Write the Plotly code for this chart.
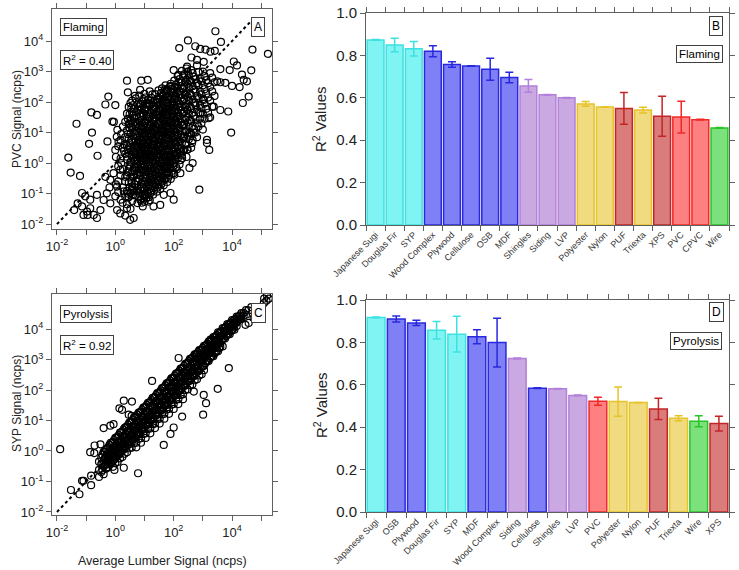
import plotly.graph_objects as go

# ---------------- DATA ----------------
# Scatter panels: values stored as log10(ncps) pairs (x = average lumber, y = material signal)
flaming_outliers_log = [
    (3.43, 4.32), (2.49, 4.02), (3.62, 3.97), (4.70, 3.72), (5.23, 3.58), (2.19, 3.77), (2.74, 3.83),
    (2.91, 3.74), (3.09, 3.72), (3.26, 3.65), (3.41, 3.68), (2.61, 3.46), (2.80, 3.38), (3.03, 3.32),
    (3.60, 3.08), (4.06, 3.33), (4.17, 3.20), (3.92, 3.05), (4.66, 3.04), (4.34, 2.90), (4.40, 2.73),
    (4.51, 2.68), (3.49, 2.68), (3.60, 2.65), (3.77, 2.63), (4.26, 2.49), (4.00, 2.53), (4.57, 2.18),
    (4.37, 1.97), (3.97, 1.00), (2.88, -0.87), (3.87, 1.69), (3.60, 1.74), (3.37, 1.85), (3.03, 2.07),
    (2.91, 1.63), (3.20, 1.47), (3.14, 0.76), (3.22, 0.43), (3.14, 0.66), (2.65, 0.00), (2.54, -0.16),
    (2.23, -0.33), (2.29, 0.16), (2.46, 0.43), (2.00, -1.20), (1.89, -0.98), (1.66, -1.04), (1.54, -1.37),
    (1.31, -1.42), (1.14, -1.26), (0.86, -1.21), (0.63, -1.80), (0.51, -1.86), (0.34, -1.72), (0.40, -1.48),
    (0.17, -1.65), (0.06, -1.54), (-0.17, -1.32), (-0.40, -1.21), (-0.29, -0.99), (-0.51, -1.54),
    (-0.63, -1.80), (-0.74, -1.70), (-0.86, -1.48), (-0.97, -1.59), (-1.09, -1.70), (-1.14, -1.42),
    (-1.29, -1.32), (-1.41, -1.54), (-1.03, -1.09), (-0.86, -1.20), (-0.63, -1.04), (-1.14, -0.98),
    (-0.95, -1.70), (-0.06, -0.33), (-0.17, -0.55), (-0.34, -0.45), (0.17, -0.22), (0.06, -0.77),
    (0.29, -0.93), (0.57, -0.87), (0.00, -1.09), (-1.61, 0.18), (-1.53, -0.31), (-1.21, -0.42),
    (-1.33, 1.29), (-0.82, 1.66), (-0.63, 1.58), (-0.80, 1.00), (-0.90, 0.63), (-0.61, 0.24),
    (-0.27, 0.71), (-0.10, 1.36), (-0.05, 1.35), (-0.24, 2.18), (-0.34, 1.92), (0.00, 1.90), (0.07, 1.09),
    (0.40, 2.70), (0.43, 2.32), (0.89, 2.70), (1.11, 2.73), (0.57, 1.69), (0.51, 1.30), (0.05, 0.86),
    (0.11, 0.70), (0.00, 0.43), (0.40, 0.21), (0.51, -0.12), (0.34, -0.45), (2.00, -0.33), (1.89, 0.00),
    (2.23, 0.38), (2.63, 0.66), (2.69, 1.00), (2.29, 1.25), (2.11, 1.52), (2.46, 1.74), (2.74, 1.97),
    (2.40, 2.24), (1.89, 2.52), (2.16, 2.89), (2.46, 3.16), (2.00, 3.05), (1.71, 2.42), (1.43, 2.08),
    (1.09, 1.97), (0.86, 1.75), (0.20, 0.00), (0.30, 0.40), (0.10, -0.60), (-0.20, -0.80), (0.25, -1.30),
    (0.45, -1.10), (0.20, 0.95), (0.30, 0.60),
]
# dense core of the flaming cloud: (log10 lumber, [log10 PVC values])
flaming_core_cols = [
    (0.02, [-0.7, 0.2]), (0.10, [-0.95, -0.1, 0.55]), (0.18, [-1.2, -0.4, 0.15, 0.75]),
    (0.26, [-0.8, -0.2, 0.5, 1.2]), (0.34, [-1.1, -0.6, 0.3, 0.85, 1.35]),
    (0.40, [-1.35, -0.92, -0.41, 0.12, 0.58, 1.07, 1.62]),
    (0.46, [-1.12, -0.63, -0.18, 0.33, 0.81, 1.28, 1.84]),
    (0.52, [-0.98, -0.47, 0.04, 0.49, 0.96, 1.41, 1.97, -1.5]),
    (0.58, [-1.24, -0.76, -0.29, 0.21, 0.69, 1.15, 1.56, 2.05]),
    (0.64, [-0.88, -0.39, 0.08, 0.57, 1.02, 1.48, 1.78, -0.12, 0.36]),
    (0.70, [-1.06, -0.58, -0.15, 0.27, 0.74, 1.21, 1.66, 2.12, 0.95]),
    (0.76, [-1.31, -0.81, -0.34, 0.14, 0.46, 0.88, 1.33, 1.74, -0.02, 0.63]),
    (0.82, [-0.97, -0.52, -0.21, 0.19, 0.55, 0.99, 1.38, 1.86, 2.21, 0.78]),
    (0.88, [-1.18, -0.69, -0.31, 0.05, 0.41, 0.72, 1.11, 1.52, 1.93, -0.05, 0.3]),
    (0.94, [-1.42, -1.02, -0.61, -0.24, 0.16, 0.52, 0.86, 1.24, 1.63, 2.02, 0.68]),
    (1.00, [-1.27, -0.89, -0.47, -0.08, 0.27, 0.63, 0.98, 1.37, 1.79, 2.27, -1.05, 0.45]),
    (1.06, [-1.15, -0.76, -0.38, 0.02, 0.38, 0.77, 1.16, 1.55, 1.94, 0.2, 1.0]),
    (1.12, [-0.99, -0.63, -0.26, 0.11, 0.47, 0.84, 1.21, 1.6, 2.08, 0.65]),
    (1.18, [-1.21, -0.84, -0.44, -0.07, 0.31, 0.69, 1.06, 1.46, 1.88, 2.35, 0.9]),
    (1.24, [-0.91, -0.55, -0.17, 0.22, 0.58, 0.94, 1.31, 1.72, 2.14, 0.4]),
    (1.30, [-1.03, -0.67, -0.3, 0.08, 0.44, 0.81, 1.19, 1.57, 1.99, 0.62]),
    (1.36, [-0.78, -0.4, -0.02, 0.35, 0.71, 1.08, 1.44, 1.83, 2.26]),
    (1.42, [-0.94, -0.58, -0.21, 0.17, 0.54, 0.92, 1.29, 1.68, 2.09, 1.1]),
    (1.48, [-0.71, -0.33, 0.04, 0.41, 0.78, 1.15, 1.53, 1.92, 2.38, 0.6]),
    (1.54, [-0.85, -0.47, -0.11, 0.28, 0.65, 1.02, 1.39, 1.77, 2.18]),
    (1.60, [-0.6, -0.24, 0.13, 0.5, 0.88, 1.26, 1.64, 2.03, 2.45, 1.05]),
    (1.66, [-0.73, -0.36, 0.01, 0.37, 0.74, 1.12, 1.5, 1.89, 2.3]),
    (1.72, [-0.5, -0.14, 0.24, 0.62, 0.99, 1.37, 1.75, 2.16, 2.55]),
    (1.78, [-0.62, -0.27, 0.1, 0.47, 0.85, 1.23, 1.61, 2.0, 2.42]),
    (1.84, [-0.39, -0.02, 0.35, 0.73, 1.11, 1.49, 1.87, 2.28]),
    (1.90, [-0.52, -0.16, 0.22, 0.6, 0.97, 1.35, 1.73, 2.14, 2.6]),
    (1.96, [-0.25, 0.12, 0.49, 0.86, 1.24, 1.62, 2.01, 2.44]),
    (2.02, [-0.38, 0.0, 0.37, 0.74, 1.12, 1.5, 1.89, 2.31, 2.7]),
    (2.08, [-0.12, 0.26, 0.63, 1.01, 1.39, 1.78, 2.19, 2.58]),
    (2.14, [0.15, 0.52, 0.9, 1.28, 1.66, 2.05, 2.47, 2.85]),
    (2.20, [-0.05, 0.38, 0.77, 1.16, 1.55, 1.95, 2.36, 2.75]),
    (2.28, [0.25, 0.66, 1.05, 1.44, 1.84, 2.24, 2.64, 3.02]),
    (2.36, [0.44, 0.86, 1.27, 1.68, 2.09, 2.5, 2.91]),
    (2.44, [0.2, 0.62, 1.05, 1.48, 1.9, 2.32, 2.74, 3.1]),
    (2.52, [0.78, 1.2, 1.62, 2.05, 2.47, 2.88]),
    (2.60, [0.5, 0.95, 1.38, 1.8, 2.23, 2.66, 3.05]),
    (2.70, [1.12, 1.55, 1.98, 2.41, 2.83]),
    (2.80, [0.85, 1.3, 1.75, 2.2, 2.62, 3.2]),
    (2.90, [1.45, 1.9, 2.35, 2.78]),
    (3.00, [1.1, 1.62, 2.1, 2.55, 3.0]),
    (3.12, [1.78, 2.28, 2.72]),
    (3.25, [1.5, 2.05, 2.5, 2.95]),
    (3.40, [2.2, 2.65]),
]
flaming_core_cols_2 = [
    (0.43, [-1.0, -0.3, 0.45, 0.95, 1.45]), (0.49, [-0.8, -0.05, 0.65, 1.15, 1.6]),
    (0.55, [-0.6, 0.25, 0.75, 1.2, 1.8]), (0.61, [-1.05, -0.45, 0.4, 0.88, 1.3, 1.9]),
    (0.67, [-0.7, -0.25, 0.12, 0.5, 1.35, 2.2]), (0.73, [-0.92, -0.38, 0.05, 0.55, 1.05, 1.5]),
    (0.79, [-1.1, -0.6, -0.1, 0.32, 0.7, 1.15, 1.95]), (0.85, [-0.85, -0.4, 0.3, 0.65, 1.25, 1.62, 2.4]),
    (0.91, [-1.3, -0.8, -0.15, 0.25, 0.6, 0.98, 1.42, 1.8]),
    (0.97, [-1.15, -0.7, -0.3, 0.08, 0.42, 0.8, 1.17, 1.55, 2.1]),
    (1.03, [-1.05, -0.6, -0.22, 0.15, 0.52, 0.9, 1.3, 1.7, 2.15]),
    (1.09, [-0.9, -0.5, -0.12, 0.28, 0.64, 1.06, 1.45, 1.83]),
    (1.15, [-1.12, -0.72, -0.33, 0.03, 0.4, 0.76, 1.13, 1.52, 1.96]),
    (1.21, [-0.98, -0.62, -0.25, 0.14, 0.5, 0.87, 1.24, 1.64, 2.05]),
    (1.27, [-0.75, -0.38, 0.0, 0.4, 0.78, 1.02, 1.43, 1.85, 2.25]),
    (1.33, [-0.9, -0.52, -0.15, 0.25, 0.6, 0.98, 1.36, 1.76]),
    (1.39, [-0.65, -0.28, 0.1, 0.46, 0.83, 1.2, 1.58, 1.97]),
    (1.45, [-0.8, -0.43, -0.05, 0.33, 0.7, 1.07, 1.6, 2.0]),
    (1.51, [-0.57, -0.2, 0.18, 0.54, 0.92, 1.3, 1.7, 2.1]),
    (1.57, [-0.7, -0.32, 0.05, 0.43, 0.8, 1.15, 1.52, 1.92, 2.3]),
    (1.63, [-0.45, -0.08, 0.3, 0.66, 1.03, 1.42, 1.8, 2.2]),
    (1.69, [-0.55, -0.2, 0.18, 0.56, 0.9, 1.28, 1.66, 2.05]),
    (1.75, [-0.32, 0.05, 0.42, 0.8, 1.18, 1.56, 1.95, 2.38]),
    (1.81, [-0.48, -0.1, 0.27, 0.64, 1.02, 1.4, 1.79, 2.17]),
    (1.87, [-0.2, 0.17, 0.55, 0.92, 1.3, 1.68, 2.08, 2.5]),
    (1.93, [-0.35, 0.05, 0.4, 0.78, 1.16, 1.54, 1.93, 2.33]),
    (1.99, [-0.1, 0.28, 0.66, 1.04, 1.42, 1.81, 2.2]),
    (2.05, [0.12, 0.5, 0.9, 1.3, 1.68, 2.08, 2.5]),
    (2.11, [-0.2, 0.35, 0.74, 1.13, 1.52, 1.92, 2.32]),
    (2.17, [0.3, 0.68, 1.06, 1.45, 1.84, 2.25, 2.65]),
    (2.24, [0.1, 0.5, 0.92, 1.32, 1.72, 2.12, 2.52]),
    (2.32, [0.4, 0.82, 1.22, 1.62, 2.02, 2.44, 2.85]),
    (2.40, [0.6, 1.02, 1.42, 1.84, 2.24, 2.66]),
    (2.48, [0.45, 0.9, 1.33, 1.75, 2.17, 2.6, 3.0]),
    (2.56, [1.0, 1.42, 1.85, 2.28, 2.7]),
    (2.65, [0.75, 1.2, 1.65, 2.08, 2.52, 2.95]),
    (2.75, [1.0, 1.45, 1.9, 2.35, 2.75]),
    (2.85, [1.2, 1.65, 2.1, 2.55, 2.98]),
    (2.95, [1.3, 1.8, 2.25, 2.68]),
    (3.06, [1.45, 1.95, 2.42, 2.85]),
    (3.18, [1.65, 2.15, 2.62]),
    (3.32, [1.85, 2.35, 2.8]),
]

pyro_outliers_log = [
    (-1.89, 0.06), (-1.52, -1.28), (-1.23, -1.42), (-1.14, -0.98), (-1.09, -0.98), (-0.83, -0.81),
    (-0.83, -1.12), (-0.86, -0.04), (-0.71, 0.18), (-0.51, 0.22), (-0.72, -0.07), (-0.40, 0.75),
    (-0.17, 0.83), (-0.06, 0.88), (0.14, 1.40), (0.23, 1.35), (0.29, 1.65), (0.57, 1.62), (0.46, 1.19),
    (-0.03, -0.62), (0.29, -0.55), (0.78, -0.73), (1.26, 2.30), (1.66, 0.20), (1.89, 0.56), (2.00, 0.77),
    (2.29, 1.13), (2.69, 1.95), (3.03, 1.84), (3.11, 1.57), (3.51, 2.04), (3.89, 2.72), (3.26, 3.65),
    (2.74, 3.10), (2.17, 3.05), (3.01, 1.19), (5.09, 4.85), (5.26, 5.00), (5.18, 4.93), (4.74, 4.36),
    (4.57, 4.20), (4.46, 4.14),
]
# dense band of the pyrolysis cloud: (log10 lumber, [log10 SYP values])
pyro_band_cols = [
    (-0.56, [-0.35, -0.62, -0.85]), (-0.48, [-0.22, -0.43, -0.69]), (-0.40, [-0.03, -0.31, -0.5, -0.76]),
    (-0.32, [0.04, -0.18, -0.43, -0.58]), (-0.24, [0.12, -0.09, -0.27, -0.53]),
    (-0.16, [0.27, 0.01, -0.19, -0.37]), (-0.08, [0.3, 0.12, -0.13, -0.31, -0.52]),
    (0.00, [0.43, 0.17, 0.02, -0.25, -0.4]), (0.08, [0.47, 0.29, 0.04, -0.12, -0.36]),
    (0.16, [0.6, 0.33, 0.17, -0.07, -0.24]), (0.24, [0.64, 0.45, 0.2, 0.05, -0.2]),
    (0.32, [0.76, 0.49, 0.33, 0.08, -0.09]), (0.40, [0.81, 0.63, 0.36, 0.2, -0.04]),
    (0.48, [0.93, 0.65, 0.49, 0.23, 0.09]), (0.56, [0.96, 0.79, 0.52, 0.37, 0.11, 1.15]),
    (0.64, [1.1, 0.82, 0.66, 0.4, 0.25]), (0.72, [1.12, 0.95, 0.69, 0.53, 0.27, 0.12]),
    (0.80, [1.26, 0.98, 0.82, 0.55, 0.4]), (0.88, [1.29, 1.11, 0.84, 0.69, 0.42, 0.27]),
    (0.96, [1.42, 1.14, 0.98, 0.71, 0.56]), (1.04, [1.45, 1.28, 1.0, 0.85, 0.58, 0.43]),
    (1.12, [1.58, 1.3, 1.14, 0.87, 0.72]), (1.20, [1.6, 1.44, 1.16, 1.01, 0.74, 0.58]),
    (1.28, [1.74, 1.46, 1.3, 1.03, 0.88]), (1.36, [1.77, 1.6, 1.32, 1.17, 0.9, 0.75]),
    (1.44, [1.9, 1.62, 1.46, 1.19, 1.04]), (1.52, [1.93, 1.76, 1.48, 1.33, 1.06, 0.9]),
    (1.60, [2.06, 1.78, 1.62, 1.35, 1.2]), (1.68, [2.09, 1.92, 1.64, 1.49, 1.22, 1.06]),
    (1.76, [2.22, 1.94, 1.78, 1.51, 1.36]), (1.84, [2.25, 2.08, 1.8, 1.65, 1.38, 1.22]),
    (1.92, [2.38, 2.1, 1.94, 1.67, 1.52]), (2.00, [2.41, 2.24, 1.96, 1.81, 1.54, 1.38]),
    (2.08, [2.54, 2.26, 2.1, 1.83, 1.68]), (2.16, [2.57, 2.4, 2.12, 1.97, 1.7, 1.54]),
    (2.24, [2.7, 2.42, 2.26, 1.99, 1.84]), (2.32, [2.73, 2.56, 2.28, 2.13, 1.86, 1.7]),
    (2.40, [2.86, 2.58, 2.42, 2.15, 2.0]), (2.48, [2.89, 2.72, 2.44, 2.29, 2.02]),
    (2.56, [3.02, 2.74, 2.58, 2.31, 2.16]), (2.64, [3.05, 2.88, 2.6, 2.45, 2.18]),
    (2.72, [3.17, 2.9, 2.74, 2.47, 2.32]), (2.80, [3.19, 3.03, 2.76, 2.61, 2.35]),
    (2.88, [3.31, 3.05, 2.9, 2.63, 2.48]), (2.96, [3.33, 3.18, 2.92, 2.77, 2.52]),
    (3.04, [3.45, 3.19, 3.06, 2.8, 2.65]), (3.12, [3.47, 3.33, 3.08, 2.94]),
    (3.20, [3.59, 3.34, 3.21, 2.95]), (3.28, [3.61, 3.48, 3.23, 3.09]),
    (3.36, [3.74, 3.49, 3.37, 3.11]), (3.44, [3.76, 3.63, 3.38, 3.25]),
    (3.52, [3.89, 3.64, 3.52, 3.27]), (3.60, [3.9, 3.78, 3.53, 3.41]),
    (3.68, [4.03, 3.79, 3.67, 3.43]), (3.76, [4.05, 3.93, 3.69]), (3.84, [4.16, 3.94, 3.82]),
    (3.92, [4.18, 4.06, 3.83]), (4.00, [4.29, 4.07, 3.96]), (4.08, [4.3, 4.2, 3.98]),
    (4.16, [4.41, 4.21, 4.1]), (4.24, [4.42, 4.33]), (4.32, [4.52, 4.34]), (4.40, [4.53, 4.44]),
    (4.48, [4.62, 4.47]), (4.56, [4.61]), (4.66, [4.72]), (5.10, [5.0]), (5.20, [5.1]),
]
pyro_band_cols_2 = [
    (-0.44, [-0.12, -0.4, -0.62]), (-0.36, [-0.02, -0.25, -0.47]), (-0.28, [0.08, -0.14, -0.36, -0.55]),
    (-0.20, [0.2, -0.03, -0.24, -0.44]), (-0.12, [0.26, 0.06, -0.16, -0.38]),
    (-0.04, [0.36, 0.13, -0.07, -0.29]), (0.04, [0.44, 0.22, 0.0, -0.2]), (0.12, [0.52, 0.3, 0.09, -0.12]),
    (0.20, [0.61, 0.38, 0.18, -0.03]), (0.28, [0.7, 0.47, 0.26, 0.04]), (0.36, [0.78, 0.55, 0.33, 0.13]),
    (0.44, [0.86, 0.64, 0.43, 0.2]), (0.52, [0.94, 0.72, 0.5, 0.29]), (0.60, [1.03, 0.8, 0.59, 0.37]),
    (0.68, [1.1, 0.88, 0.67, 0.45]), (0.76, [1.19, 0.96, 0.75, 0.52]), (0.84, [1.27, 1.04, 0.83, 0.61]),
    (0.92, [1.35, 1.12, 0.91, 0.69]), (1.00, [1.43, 1.21, 0.99, 0.77]), (1.08, [1.51, 1.29, 1.07, 0.85]),
    (1.16, [1.59, 1.37, 1.15, 0.93]), (1.24, [1.67, 1.45, 1.23, 1.01]), (1.32, [1.75, 1.53, 1.31, 1.09]),
    (1.40, [1.83, 1.61, 1.39, 1.17]), (1.48, [1.91, 1.69, 1.47, 1.25]), (1.56, [1.99, 1.77, 1.55, 1.33]),
    (1.64, [2.07, 1.85, 1.63, 1.41]), (1.72, [2.15, 1.93, 1.71, 1.49]), (1.80, [2.23, 2.01, 1.79, 1.57]),
    (1.88, [2.31, 2.09, 1.87, 1.65]), (1.96, [2.39, 2.17, 1.95, 1.73]), (2.04, [2.47, 2.25, 2.03, 1.81]),
    (2.12, [2.55, 2.33, 2.11, 1.89]), (2.20, [2.63, 2.41, 2.19, 1.97]), (2.28, [2.71, 2.49, 2.27, 2.05]),
    (2.36, [2.79, 2.57, 2.35, 2.13]), (2.44, [2.87, 2.65, 2.43, 2.21]), (2.52, [2.95, 2.73, 2.51, 2.29]),
    (2.60, [3.03, 2.81, 2.59, 2.37]), (2.68, [3.1, 2.89, 2.67, 2.45]), (2.76, [3.17, 2.97, 2.75, 2.53]),
    (2.84, [3.24, 3.04, 2.83, 2.62]), (2.92, [3.31, 3.12, 2.91, 2.7]), (3.00, [3.38, 3.19, 2.99, 2.78]),
    (3.08, [3.45, 3.27, 3.07, 2.87]), (3.16, [3.52, 3.34, 3.15, 2.96]), (3.24, [3.59, 3.41, 3.23, 3.04]),
    (3.32, [3.66, 3.49, 3.31, 3.12]), (3.40, [3.73, 3.56, 3.39, 3.2]), (3.48, [3.8, 3.63, 3.46, 3.29]),
    (3.56, [3.87, 3.71, 3.54, 3.37]), (3.64, [3.94, 3.78, 3.62]), (3.72, [4.01, 3.86, 3.7]),
    (3.80, [4.08, 3.93, 3.77]), (3.88, [4.14, 4.0, 3.85]), (3.96, [4.21, 4.08, 3.93]),
    (4.04, [4.27, 4.14, 4.01]), (4.12, [4.33, 4.2]), (4.20, [4.39, 4.27]), (4.28, [4.45, 4.33]),
]

# Bar panels
flaming_materials = ["Japanese Sugi", "Douglas Fir", "SYP", "Wood Complex", "Plywood", "Cellulose", "OSB",
                     "MDF", "Shingles", "Siding", "LVP", "Polyester", "Nylon", "PUF", "Triexta", "XPS",
                     "PVC", "CPVC", "Wire"]
flaming_r2 = [0.873, 0.849, 0.831, 0.820, 0.757, 0.750, 0.735, 0.696, 0.656, 0.614, 0.600, 0.571, 0.557,
              0.550, 0.542, 0.513, 0.509, 0.497, 0.458]
flaming_err = [0.002, 0.032, 0.034, 0.026, 0.013, 0.001, 0.052, 0.025, 0.030, 0.002, 0.002, 0.011, 0.001,
               0.075, 0.014, 0.094, 0.075, 0.002, 0.002]
flaming_group = ["cyan", "cyan", "cyan", "blue", "blue", "blue", "blue", "blue", "lav", "lav", "lav",
                 "yellow", "yellow", "darkred", "yellow", "darkred", "red", "red", "green"]

pyro_materials = ["Japanese Sugi", "OSB", "Plywood", "Douglas Fir", "SYP", "MDF", "Wood Complex", "Siding",
                  "Cellulose", "Shingles", "LVP", "PVC", "Polyester", "Nylon", "PUF", "Triexta", "Wire", "XPS"]
pyro_r2 = [0.918, 0.910, 0.892, 0.857, 0.839, 0.827, 0.799, 0.724, 0.584, 0.581, 0.550, 0.522, 0.521, 0.516,
           0.486, 0.442, 0.428, 0.417]
pyro_err = [0.002, 0.014, 0.012, 0.041, 0.084, 0.033, 0.115, 0.002, 0.002, 0.002, 0.002, 0.019, 0.069, 0.001,
            0.050, 0.012, 0.026, 0.035]
pyro_group = ["cyan", "blue", "blue", "cyan", "cyan", "blue", "blue", "lav", "blue", "lav", "lav", "red",
              "yellow", "yellow", "darkred", "yellow", "green", "darkred"]

group_fill = {"cyan": "rgb(128,243,243)", "blue": "rgb(128,128,246)", "lav": "rgb(202,168,226)",
              "yellow": "rgb(241,219,128)", "darkred": "rgb(219,124,124)", "red": "rgb(255,128,128)",
              "green": "rgb(124,225,124)"}
group_edge = {"cyan": "rgb(60,225,225)", "blue": "rgb(40,40,222)", "lav": "rgb(178,128,218)",
              "yellow": "rgb(230,196,40)", "darkred": "rgb(196,36,36)", "red": "rgb(242,40,40)",
              "green": "rgb(40,196,40)"}
group_order = ["cyan", "blue", "lav", "yellow", "darkred", "red", "green"]

# ---------------- FIGURE ----------------
fig = go.Figure()
FONT = "Liberation Sans, Arial, sans-serif"
AX = "#606060"


def expand(outliers, *col_sets):
    xs = [p[0] for p in outliers]
    ys_ = [p[1] for p in outliers]
    for cols in col_sets:
        xs += [x for x, ys in cols for _ in ys]
        ys_ += [y for _, ys in cols for y in ys]
    return [10 ** v for v in xs], [10 ** v for v in ys_]


fl_x, fl_y = expand(flaming_outliers_log, flaming_core_cols, flaming_core_cols_2)
py_x, py_y = expand(pyro_outliers_log, pyro_band_cols, pyro_band_cols_2)

one_to_one = [1e-2, 10 ** 4.62]

for xa, ya, xs, ys in [("x", "y", fl_x, fl_y), ("x3", "y3", py_x, py_y)]:
    fig.add_trace(go.Scatter(x=one_to_one, y=one_to_one, mode="lines", xaxis=xa, yaxis=ya,
                             line=dict(color="black", width=2, dash="dot"), showlegend=False,
                             hoverinfo="skip"))
    fig.add_trace(go.Scatter(x=xs, y=ys, mode="markers", xaxis=xa, yaxis=ya, showlegend=False,
                             marker=dict(symbol="circle-open", size=7, color="black",
                                         line=dict(width=1.2, color="black"))))


def add_bars(materials, vals, errs, groups, xa, ya):
    for g in group_order:
        idx = [i for i, gg in enumerate(groups) if gg == g]
        if not idx:
            continue
        fig.add_trace(go.Bar(
            x=[materials[i] for i in idx], y=[vals[i] for i in idx], xaxis=xa, yaxis=ya,
            width=0.88, showlegend=False, textposition="none",
            marker=dict(color=group_fill[g], line=dict(color=group_edge[g], width=1.5)),
            error_y=dict(type="data", array=[errs[i] for i in idx], visible=True,
                         color=group_edge[g], thickness=1.5, width=4)))


add_bars(flaming_materials, flaming_r2, flaming_err, flaming_group, "x2", "y2")
add_bars(pyro_materials, pyro_r2, pyro_err, pyro_group, "x4", "y4")


def sup(e):
    return "10<sup>%d</sup>" % e


x_major = [10 ** e for e in (-2, 0, 2, 4)]
x_major_text = [sup(e) for e in (-2, 0, 2, 4)]
x_minor = [10 ** e for e in (-1, 1, 3, 5)]
y_tickvals = [10 ** e for e in range(-2, 5)]
y_ticktext = [sup(e) for e in range(-2, 5)]

common = dict(showline=True, linecolor=AX, linewidth=1, mirror="ticks", ticks="outside", ticklen=5,
              tickcolor=AX, showgrid=False, zeroline=False, automargin=False,
              tickfont=dict(size=13, color="#222"))
minor_x = dict(tickmode="array", tickvals=x_minor, ticks="outside", ticklen=5, tickcolor=AX, showgrid=False)

W, H = 739.0, 570.0
dx_sc = [52 / W, 272 / W]
dx_bar = [366 / W, 729 / W]

fig.update_layout(
    width=739, height=570, margin=dict(l=0, r=0, t=0, b=0, autoexpand=False),
    paper_bgcolor="white", plot_bgcolor="white", font=dict(family=FONT, color="#222"),
    barmode="overlay", showlegend=False,
    xaxis=dict(type="log", range=[-2.17, 5.37], domain=dx_sc, anchor="y", tickmode="array",
               tickvals=x_major, ticktext=x_major_text, minor=minor_x, **common),
    yaxis=dict(type="log", range=[-2.16, 5.05], domain=[1 - 229 / H, 1 - 9 / H], anchor="x",
               tickmode="array", tickvals=y_tickvals, ticktext=y_ticktext, **common),
    xaxis3=dict(type="log", range=[-2.17, 5.37], domain=dx_sc, anchor="y3", tickmode="array",
                tickvals=x_major, ticktext=x_major_text, minor=minor_x, **common),
    yaxis3=dict(type="log", range=[-2.1, 5.15], domain=[1 - 515 / H, 1 - 294 / H], anchor="x3",
                tickmode="array", tickvals=y_tickvals, ticktext=y_ticktext, **common),
    xaxis2=dict(type="category", domain=dx_bar, anchor="y2", categoryorder="array",
                categoryarray=flaming_materials, tickson="boundaries", tickangle=-45,
                range=[-0.5, len(flaming_materials) - 0.5],
                **{**common, "tickfont": dict(size=9, color="#333")}),
    yaxis2=dict(range=[0, 1.0], dtick=0.2, tickformat=".1f", domain=[1 - 225 / H, 1 - 13 / H],
                anchor="x2", **{**common, "tickfont": dict(size=15, color="#222")}),
    xaxis4=dict(type="category", domain=dx_bar, anchor="y4", categoryorder="array",
                categoryarray=pyro_materials, tickson="boundaries", tickangle=-45,
                range=[-0.5, len(pyro_materials) - 0.5],
                **{**common, "tickfont": dict(size=9, color="#333")}),
    yaxis4=dict(range=[0, 1.0], dtick=0.2, tickformat=".1f", domain=[1 - 512 / H, 1 - 300 / H],
                anchor="x4", **{**common, "tickfont": dict(size=15, color="#222")}),
)


def box(text, px, py, size=11.5):
    fig.add_annotation(x=px / W, y=1 - py / H, xref="paper", yref="paper", text=text, showarrow=False,
                       xanchor="center", yanchor="middle", font=dict(size=size, color="black", family=FONT),
                       bordercolor="#404040", borderwidth=1, borderpad=2, bgcolor="white")


def label(text, px, py, size=12, angle=0):
    fig.add_annotation(x=px / W, y=1 - py / H, xref="paper", yref="paper", text=text, showarrow=False,
                       xanchor="center", yanchor="middle", textangle=angle,
                       font=dict(size=size, color="#222", family=FONT))


box("Flaming", 83, 26.5)
box("R<sup>2</sup> = 0.40", 87, 60)
box("A", 257.5, 26.5, 12)
box("Pyrolysis", 85.5, 313.5)
box("R<sup>2</sup> = 0.92", 87, 345)
box("C", 258, 312.5, 12)
box("B", 716, 26, 12)
box("Flaming", 699, 54)
box("D", 716, 312, 12)
box("Pyrolysis", 696, 341)

label("PVC Signal (ncps)", 17, 119, 12, -90)
label("SYP Signal (ncps)", 17, 404, 12, -90)
label("Average Lumber Signal (ncps)", 162, 561, 12.5)
label("R<sup>2</sup> Values", 320, 119, 15, -90)
label("R<sup>2</sup> Values", 320, 405, 15, -90)

fig.write_html("out.html")
